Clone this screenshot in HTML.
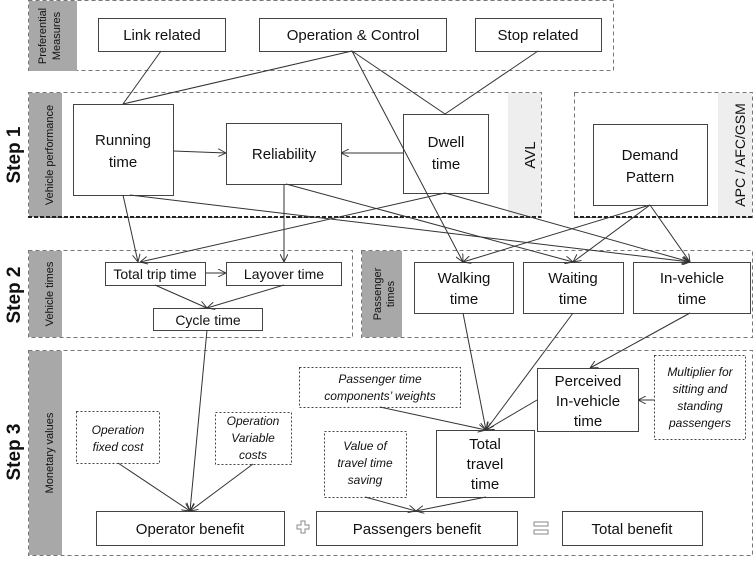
<!DOCTYPE html>
<html><head><meta charset="utf-8"><style>
body{margin:0;background:#fff}
svg text{font-family:"Liberation Sans",sans-serif;fill:#111}
</style></head><body>
<svg width="753" height="559" viewBox="0 0 753 559" xmlns="http://www.w3.org/2000/svg">
<defs><marker id="a" viewBox="0 0 10 10" refX="10" refY="5" markerWidth="8" markerHeight="8" orient="auto"><path d="M0,0 L10,5 L0,10" fill="none" stroke="#333" stroke-width="1.2"/></marker></defs>
<g fill="none" stroke="#777" stroke-dasharray="4,3" stroke-width="1">
<rect x="28.5" y="0.5" width="585" height="70"/>
<rect x="28.5" y="92.5" width="513" height="125"/>
<rect x="574.5" y="92.5" width="178" height="125"/>
<rect x="28.5" y="250.5" width="324" height="87"/>
<rect x="361.5" y="250.5" width="391" height="87"/>
<rect x="28.5" y="350.5" width="724" height="205"/>
</g>
<g fill="#a8a8a8"><rect x="29" y="1" width="48" height="70"/><rect x="29" y="93" width="33" height="124"/><rect x="29" y="251" width="33" height="86"/><rect x="362" y="251" width="40" height="86"/><rect x="29" y="351" width="33" height="204"/></g>
<g fill="#eee"><rect x="508" y="93" width="33" height="124"/><rect x="718" y="93" width="34" height="124"/></g>
<g stroke="#222" stroke-width="2" stroke-dasharray="4,2"><line x1="28" y1="217" x2="541" y2="217"/><line x1="574" y1="217" x2="752" y2="217"/></g>
<g font-size="11" fill="#222" text-anchor="middle">
<text transform="translate(48,36) rotate(-90)" y="-2">Preferential</text>
<text transform="translate(48,36) rotate(-90)" y="12">Measures</text>
<text transform="translate(49,155) rotate(-90)" y="4">Vehicle performance</text>
<text transform="translate(49,294) rotate(-90)" y="4">Vehicle times</text>
<text transform="translate(382,294) rotate(-90)" y="-1">Passenger</text>
<text transform="translate(382,294) rotate(-90)" y="12">times</text>
<text transform="translate(49,453) rotate(-90)" y="4">Monetary values</text>
</g>
<g font-size="15" text-anchor="middle">
<text transform="translate(530,155) rotate(-90)" y="5">AVL</text>
<text transform="translate(740,155) rotate(-90)" y="5" font-size="14">APC / AFC/GSM</text>
<g font-weight="bold" font-size="19">
<text transform="translate(14,155) rotate(-90)" y="6">Step 1</text>
<text transform="translate(14,295) rotate(-90)" y="6">Step 2</text>
<text transform="translate(14,452) rotate(-90)" y="6">Step 3</text>
</g></g>
<g fill="#fff" stroke="#444" stroke-width="1">
<rect x="98.5" y="18.5" width="127" height="33"/><rect x="259.5" y="18.5" width="187" height="33"/><rect x="475.5" y="18.5" width="126" height="33"/>
<rect x="73.5" y="104.5" width="100" height="91"/><rect x="226.5" y="123.5" width="115" height="61"/><rect x="403.5" y="114.5" width="85" height="79"/><rect x="593.5" y="124.5" width="114" height="81"/>
<rect x="105.5" y="262.5" width="100" height="23"/><rect x="226.5" y="262.5" width="115" height="23"/><rect x="153.5" y="308.5" width="109" height="22"/>
<rect x="414.5" y="262.5" width="99" height="51"/><rect x="523.5" y="262.5" width="100" height="51"/><rect x="633.5" y="262.5" width="117" height="51"/>
<rect x="537.5" y="368.5" width="101" height="63"/><rect x="436.5" y="430.5" width="98" height="67"/>
<rect x="96.5" y="511.5" width="188" height="34"/><rect x="316.5" y="511.5" width="201" height="34"/><rect x="562.5" y="511.5" width="140" height="34"/>
</g>
<g fill="#fff" stroke="#444" stroke-dasharray="2,2">
<rect x="299.5" y="367.5" width="161" height="40"/><rect x="654.5" y="355.5" width="91" height="84"/><rect x="76.5" y="411.5" width="83" height="52"/><rect x="215.5" y="412.5" width="76" height="52"/><rect x="324.5" y="431.5" width="82" height="66"/>
</g>
<g fill="none" stroke="#333" stroke-width="1">
<line x1="161" y1="51" x2="123" y2="104"/><line x1="352" y1="51" x2="123" y2="104"/><line x1="352" y1="51" x2="445" y2="114"/><line x1="538" y1="51" x2="445" y2="114"/>
<line x1="352" y1="51" x2="463" y2="262" marker-end="url(#a)"/>
<line x1="173" y1="151" x2="226" y2="153" marker-end="url(#a)"/>
<line x1="403" y1="153" x2="341" y2="153" marker-end="url(#a)"/>
<line x1="284" y1="184" x2="284" y2="262" marker-end="url(#a)"/>
<line x1="123" y1="195" x2="138" y2="262" marker-end="url(#a)"/>
<line x1="130" y1="195" x2="690" y2="262" marker-end="url(#a)"/>
<line x1="286" y1="184" x2="573" y2="262" marker-end="url(#a)"/>
<line x1="445" y1="193" x2="140" y2="262" marker-end="url(#a)"/>
<line x1="445" y1="193" x2="690" y2="262" marker-end="url(#a)"/>
<line x1="650" y1="205" x2="463" y2="262" marker-end="url(#a)"/>
<line x1="650" y1="205" x2="573" y2="262" marker-end="url(#a)"/>
<line x1="650" y1="205" x2="690" y2="262" marker-end="url(#a)"/>
<line x1="205" y1="273" x2="226" y2="273" marker-end="url(#a)"/>
<line x1="155" y1="285" x2="207" y2="308" marker-end="url(#a)"/>
<line x1="284" y1="285" x2="207" y2="308" marker-end="url(#a)"/>
<line x1="207" y1="330" x2="190" y2="511" marker-end="url(#a)"/>
<line x1="463" y1="313" x2="486" y2="430" marker-end="url(#a)"/>
<line x1="573" y1="313" x2="486" y2="430" marker-end="url(#a)"/>
<line x1="690" y1="313" x2="590" y2="368" marker-end="url(#a)"/>
<line x1="537" y1="400" x2="486" y2="430" marker-end="url(#a)"/>
<line x1="380" y1="407" x2="486" y2="430" marker-end="url(#a)"/>
<line x1="654" y1="400" x2="638" y2="400" marker-end="url(#a)"/>
<line x1="118" y1="463" x2="190" y2="511" marker-end="url(#a)"/>
<line x1="253" y1="464" x2="190" y2="511" marker-end="url(#a)"/>
<line x1="365" y1="497" x2="416" y2="511" marker-end="url(#a)"/>
<line x1="486" y1="497" x2="416" y2="511" marker-end="url(#a)"/>
</g>
<g font-size="15" text-anchor="middle">
<text x="162" y="40">Link related</text><text x="353" y="40">Operation &amp; Control</text><text x="538" y="40">Stop related</text>
<text x="123" y="145">Running</text><text x="123" y="167">time</text>
<text x="284" y="159">Reliability</text>
<text x="446" y="147">Dwell</text><text x="446" y="169">time</text>
<text x="650" y="160">Demand</text><text x="650" y="182">Pattern</text>
<text x="155" y="279" font-size="14">Total trip time</text><text x="284" y="279" font-size="14">Layover time</text><text x="208" y="325" font-size="14">Cycle time</text>
<text x="464" y="283">Walking</text><text x="464" y="304">time</text>
<text x="573" y="283">Waiting</text><text x="573" y="304">time</text>
<text x="692" y="283">In-vehicle</text><text x="692" y="304">time</text>
<text x="588" y="386">Perceived</text><text x="588" y="406">In-vehicle</text><text x="588" y="426">time</text>
<text x="485" y="449">Total</text><text x="485" y="469">travel</text><text x="485" y="489">time</text>
<text x="190" y="534">Operator benefit</text><text x="417" y="534">Passengers benefit</text><text x="632" y="534">Total benefit</text>
</g>
<g font-size="12" font-style="italic" text-anchor="middle">
<text x="380" y="383">Passenger time</text><text x="380" y="400">components’ weights</text>
<text x="700" y="376">Multiplier for</text><text x="700" y="393">sitting and</text><text x="700" y="410">standing</text><text x="700" y="427">passengers</text>
<text x="118" y="434">Operation</text><text x="118" y="451">fixed cost</text>
<text x="253" y="425">Operation</text><text x="253" y="442">Variable</text><text x="253" y="459">costs</text>
<text x="365" y="450">Value of</text><text x="365" y="467">travel time</text><text x="365" y="484">saving</text>
</g>
<g fill="#fff" stroke="#888"><path d="M297,525 h4 v-4 h4 v4 h4 v4 h-4 v4 h-4 v-4 h-4 z"/><rect x="534" y="522" width="14" height="4"/><rect x="534" y="530" width="14" height="4"/></g>
</svg>
</body></html>
